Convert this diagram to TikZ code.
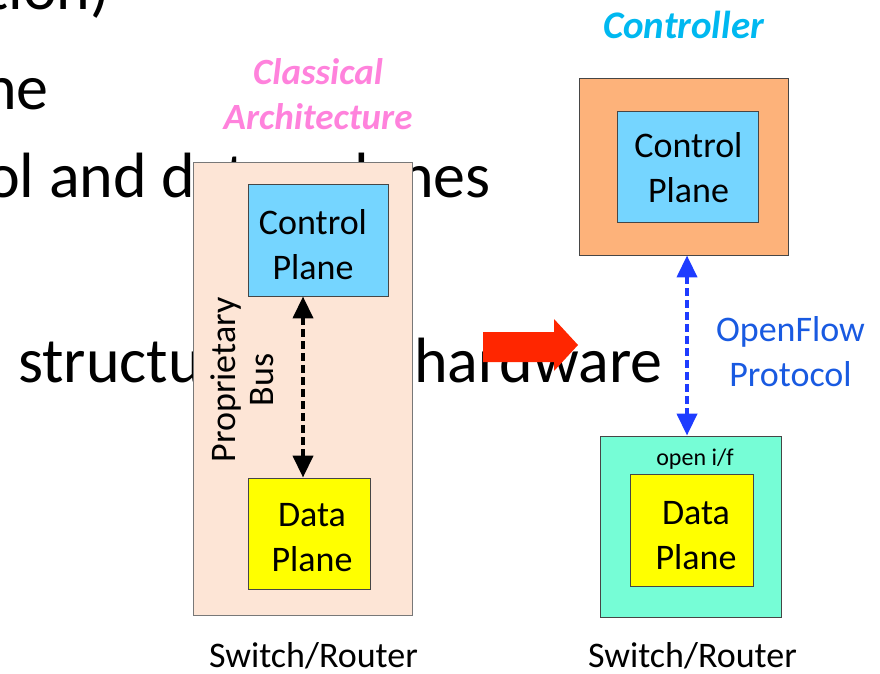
\documentclass[tikz,border=0pt]{standalone}
\usepackage{fontspec}
\setmainfont{Carlito}
\usetikzlibrary{arrows.meta}
\definecolor{beige}{RGB}{253,229,214}
\definecolor{cpblue}{RGB}{117,213,255}
\definecolor{dpyellow}{RGB}{255,255,0}
\definecolor{ctrlorange}{RGB}{253,178,122}
\definecolor{ifgreen}{RGB}{118,253,214}
\definecolor{pinktxt}{RGB}{255,130,220}
\definecolor{cyantxt}{RGB}{0,184,240}
\definecolor{oftxt}{RGB}{25,90,225}
\definecolor{arrowblue}{RGB}{30,60,255}
\definecolor{redarrow}{RGB}{255,38,0}
\definecolor{boxedge}{RGB}{70,70,70}
\definecolor{outeredge}{RGB}{120,120,120}
\begin{document}
\begin{tikzpicture}[x=1pt,y=-1pt,
  bigtext/.style={inner sep=0pt, font=\fontsize{64}{77}\selectfont},
  boxnode/.style={draw=boxedge, line width=0.9pt, inner sep=0pt},
  boxtext/.style={inner sep=0pt, align=center, font=\fontsize{36}{45}\selectfont},
  outerbox/.style={draw=outeredge, line width=0.9pt, inner sep=0pt},
  label36/.style={inner sep=0pt, font=\fontsize{36}{45}\selectfont},
  titletext/.style={inner sep=0pt, align=center, font=\bfseries\itshape\fontsize{37}{45}\selectfont},
  busarrow/.style={line width=4pt, dash pattern=on 8pt off 4pt,
    {Triangle[width=20pt,length=22pt]}-{Triangle[width=20pt,length=22pt]}}
]
\useasboundingbox (0,0) rectangle (880,674);
\clip (0,0) rectangle (880,674);

% background slide text
\node[bigtext, anchor=base east] (t1) at (110,10) {tion)};
\node[bigtext, anchor=base east] (t2) at (49,110) {ne};
\node[bigtext, anchor=base west] (t3a) at (-14,197) {ol and data};
\node[bigtext, anchor=base east] (t3b) at (491,197) {planes};
\node[bigtext, anchor=base west] (t4a) at (18,382) {structu};
\node[bigtext, anchor=base west] (t4b) at (414,382) {hardware};

% classical architecture
\node[titletext, text=pinktxt] (classical) at (318,94) {Classical\\Architecture};
\node[outerbox, fill=beige, minimum width=219pt, minimum height=453pt] (outerL) at (302.5,388.5) {};
\node[boxnode, fill=cpblue, minimum width=140pt, minimum height=112pt] (cpL) at (318,240) {};
\node[boxtext] (cpLt) at (313,244.5) {Control\\Plane};
\node[boxnode, fill=dpyellow, minimum width=122pt, minimum height=111pt] (dpL) at (309.5,533.5) {};
\node[boxtext] (dpLt) at (312,537.5) {Data\\Plane};
\node[inner sep=0pt, align=center, rotate=90, font=\fontsize{36}{38}\selectfont] (bus) at (242,380) {Proprietary\\Bus};
\coordinate (busx) at (303,0);
\draw[busarrow, black] (cpL.south -| busx) -- (dpL.north -| busx);
\node[label36, anchor=base] (swL) at (313.5,667) {Switch/Router};

% red arrow
\fill[redarrow] (483,332) -- (554,332) -- (554,319) -- (578,345) -- (554,371) -- (554,362) -- (483,362) -- cycle;

% openflow architecture
\node[titletext, text=cyantxt, anchor=base, font=\bfseries\itshape\fontsize{39}{45}\selectfont] (controller) at (683.5,39) {Controller};
\node[outerbox, draw=boxedge, fill=ctrlorange, minimum width=209pt, minimum height=177pt] (orange) at (683.5,166.5) {};
\node[boxnode, fill=cpblue, minimum width=141pt, minimum height=111pt] (cpR) at (687.5,166.5) {};
\node[boxtext] (cpRt) at (688.5,167.5) {Control\\Plane};
\node[outerbox, draw=boxedge, fill=ifgreen, minimum width=181pt, minimum height=181pt] (green) at (690.5,526.5) {};
\node[inner sep=0pt, anchor=base, font=\fontsize{24}{29}\selectfont] (openif) at (695,465) {open i/f};
\node[boxnode, fill=dpyellow, minimum width=123pt, minimum height=112pt] (dpR) at (691.5,530) {};
\node[boxtext] (dpRt) at (696,535.5) {Data\\Plane};
\coordinate (ofx) at (687,0);
\draw[busarrow, arrowblue] (orange.south -| ofx) -- (green.north -| ofx);
\node[label36, align=center, text=oftxt] (of) at (790.5,352) {OpenFlow\\Protocol};
\node[label36, anchor=base] (swR) at (692.5,667) {Switch/Router};
\end{tikzpicture}
\end{document}
